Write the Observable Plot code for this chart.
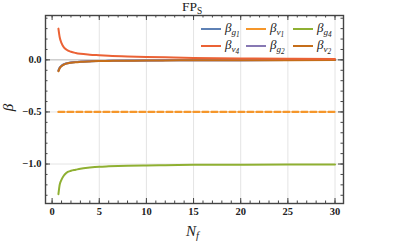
<!DOCTYPE html>
<html><head><meta charset="utf-8">
<script src="https://cdn.jsdelivr.net/npm/d3@7"></script>
<script src="https://cdn.jsdelivr.net/npm/@observablehq/plot@0.6"></script>
<style>
body{margin:0;background:#fff;}
#wrap{position:relative;width:407px;height:244px;font-family:"Liberation Serif",serif;color:#222;}
#wrap svg{position:absolute;left:0;top:0;}
.lbl{position:absolute;white-space:nowrap;line-height:1;}
.leg{position:absolute;white-space:nowrap;font-size:13px;font-style:italic;line-height:1;}
.sw{position:absolute;height:2px;width:20px;}
sub{font-size:70%;vertical-align:-0.3em;}
sub sub{font-size:80%;}
</style></head>
<body><div id="wrap"></div>
<script>
// data
const xs  = [0.67, 0.8, 1, 1.25, 1.5, 2, 2.5, 3, 4, 5, 6, 8, 10, 12, 15, 20, 25, 30];
const bG1 = [-0.10, -0.075, -0.056, -0.042, -0.034, -0.025, -0.02, -0.017, -0.013, -0.011, -0.009, -0.007, -0.0055, -0.0045, -0.0035, -0.0027, -0.0022, -0.0018];
const bG2 = [-0.105, -0.078, -0.058, -0.044, -0.035, -0.026, -0.021, -0.018, -0.014, -0.0115, -0.0095, -0.0075, -0.0058, -0.0048, -0.0038, -0.0029, -0.0024, -0.0019];
const bV1 = [-0.5, -0.5, -0.5, -0.5, -0.5, -0.5, -0.5, -0.5, -0.5, -0.5, -0.5, -0.5, -0.5, -0.5, -0.5, -0.5, -0.5, -0.5];
const bV2 = [-0.11, -0.08, -0.06, -0.045, -0.036, -0.027, -0.022, -0.019, -0.015, -0.012, -0.01, -0.008, -0.006, -0.005, -0.004, -0.003, -0.0025, -0.002];
const bV4 = [0.30, 0.22, 0.16, 0.12, 0.10, 0.078, 0.066, 0.058, 0.05, 0.045, 0.04, 0.033, 0.028, 0.024, 0.019, 0.014, 0.011, 0.009];
const bG4 = [-1.29, -1.20, -1.15, -1.11, -1.085, -1.065, -1.055, -1.045, -1.034, -1.026, -1.022, -1.016, -1.013, -1.011, -1.008, -1.006, -1.005, -1.004];
const xMajor = [0, 5, 10, 15, 20, 25, 30];
const xMinor = d3.range(0, 31, 1);
const yMajor = [0, -0.5, -1.0];
const yMinor = d3.range(-13, 5).map(d => d / 10);
const colors = {g1:"#5E81B5", v1:"#F5962A", g4:"#8FB032", v4:"#EB6235", g2:"#8778B3", v2:"#C56E1A"};

const pts = (ys) => xs.map((x, i) => ({x, y: ys[i]}));
const H = 188; // frame height
const W = 298; // frame width
const fc = "#444";

const chart = Plot.plot({
  width: 407, height: 244,
  marginLeft: 45, marginRight: 64, marginTop: 15, marginBottom: 41,
  x: {domain: [-0.7, 30.9], axis: null},
  y: {domain: [-1.379, 0.426], axis: null},
  style: {fontFamily: "Liberation Serif, serif", fontSize: "10.5px"},
  marks: [
    Plot.ruleX(xMajor.filter(d => d > 0), {x: d => d, stroke: "#e4e4e4", strokeWidth: 1}),
    Plot.ruleY([-0.5, -1.0], {y: d => d, stroke: "#e4e4e4", strokeWidth: 1}),
    Plot.ruleY([0], {y: d => d, stroke: "#b5b5b5", strokeWidth: 1}),
    Plot.line(pts(bG1), {x: "x", y: "y", stroke: colors.g1, strokeWidth: 2, curve: "monotone-x"}),
    Plot.line(pts(bG2), {x: "x", y: "y", stroke: colors.g2, strokeWidth: 2, curve: "monotone-x"}),
    Plot.line(pts(bV2), {x: "x", y: "y", stroke: colors.v2, strokeWidth: 2, curve: "monotone-x"}),
    Plot.line(pts(bV4), {x: "x", y: "y", stroke: colors.v4, strokeWidth: 2, curve: "monotone-x"}),
    Plot.line(pts(bG4), {x: "x", y: "y", stroke: colors.g4, strokeWidth: 2, curve: "monotone-x"}),
    Plot.line(pts(bV1), {x: "x", y: "y", stroke: colors.v1, strokeWidth: 2.3, strokeDasharray: "6,3"}),
    // inward ticks
    Plot.tickX(xMajor, {x: d => d, insetTop: H - 5, stroke: fc}),
    Plot.tickX(xMinor, {x: d => d, insetTop: H - 2.5, stroke: fc}),
    Plot.tickX(xMajor, {x: d => d, insetBottom: H - 5, stroke: fc}),
    Plot.tickX(xMinor, {x: d => d, insetBottom: H - 2.5, stroke: fc}),
    Plot.tickY(yMajor, {y: d => d, insetRight: W - 5, stroke: fc}),
    Plot.tickY(yMinor, {y: d => d, insetRight: W - 2.5, stroke: fc}),
    Plot.tickY(yMajor, {y: d => d, insetLeft: W - 5, stroke: fc}),
    Plot.tickY(yMinor, {y: d => d, insetLeft: W - 2.5, stroke: fc}),
    Plot.frame({stroke: fc, strokeWidth: 1.4}),
    Plot.text(xMajor, {x: d => d, frameAnchor: "bottom", dy: 11, text: d => String(d), fill: "#222", fontWeight: "bold"}),
    Plot.text(yMajor, {y: d => d, frameAnchor: "left", dx: -4, textAnchor: "end", text: d => d3.format(".1f")(d), fill: "#222", fontWeight: "bold"})
  ]
});
const wrap = document.getElementById("wrap");
wrap.appendChild(chart);

function add(html, cls, css) {
  const e = document.createElement("div");
  e.className = cls; e.innerHTML = html;
  Object.assign(e.style, css);
  wrap.appendChild(e);
  return e;
}
add("FP<sub style='font-size:70%'>S</sub>", "lbl", {left: "182px", top: "0px", fontSize: "13.5px"});
add("<i>β</i>", "lbl", {left: "5px", top: "100px", fontSize: "15px", transform: "rotate(-90deg)"});
add("<i>N<sub>f</sub></i>", "lbl", {left: "186px", top: "224px", fontSize: "15px"});

const legend = [
  {k: "g1", t: "β<sub>g<sub>1</sub></sub>", col: 0, row: 0},
  {k: "v1", t: "β<sub>v<sub>1</sub></sub>", col: 1, row: 0},
  {k: "g4", t: "β<sub>g<sub>4</sub></sub>", col: 2, row: 0},
  {k: "v4", t: "β<sub>v<sub>4</sub></sub>", col: 0, row: 1},
  {k: "g2", t: "β<sub>g<sub>2</sub></sub>", col: 1, row: 1},
  {k: "v2", t: "β<sub>v<sub>2</sub></sub>", col: 2, row: 1}
];
const colX = [201, 246, 293];
const rowY = [29, 46];
for (const l of legend) {
  add("", "sw", {left: colX[l.col] + "px", top: (rowY[l.row] - 1) + "px", background: colors[l.k]});
  add(l.t, "leg", {left: (colX[l.col] + 24) + "px", top: (rowY[l.row] - 8) + "px"});
}
</script></body></html>
